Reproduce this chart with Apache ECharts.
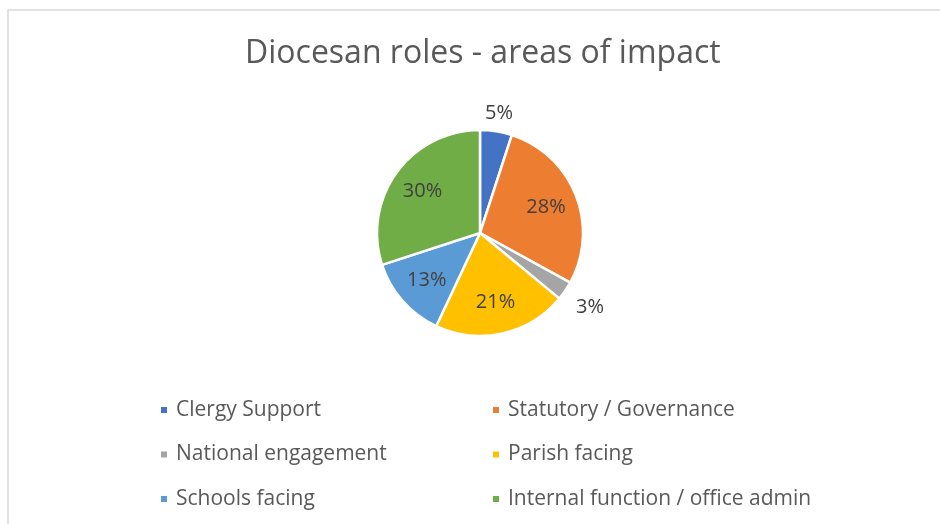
<!DOCTYPE html>
<html>
<head>
<meta charset="utf-8">
<script src="https://cdn.jsdelivr.net/npm/echarts@6/dist/echarts.min.js"></script>
<style>
  html, body { margin: 0; padding: 0; background: #fff; }
  #chart { width: 940px; height: 524px; }
</style>
</head>
<body>
<div id="chart"></div>
<script>
// Diocesan roles pie

var categories = ['Clergy Support', 'Statutory / Governance', 'National engagement',
                  'Parish facing', 'Schools facing', 'Internal function / office admin'];
var values = [5, 28, 3, 21, 13, 30];
var colors = ['#4472C4', '#ED7D31', '#A5A5A5', '#FFC000', '#5B9BD5', '#70AD47'];

var leftColumn = [categories[0], categories[2], categories[4]];
var rightColumn = [categories[1], categories[3], categories[5]];

var font = '"Open Sans", sans-serif';
var textColor = '#404040';

var pieData = categories.map(function (name, i) {
    return { name: name, value: values[i], itemStyle: { color: colors[i] } };
});

// transparent copy of the pie, only used to place the percent labels
function labelSeries(radius, show) {
    return {
        type: 'pie',
        center: [480, 233],
        radius: [0, radius],
        silent: true,
        animation: false,
        z: 3,
        itemStyle: { color: 'rgba(0,0,0,0)', borderWidth: 0 },
        label: {
            show: true,
            position: 'inside',
            color: textColor,
            fontFamily: font,
            fontSize: 20,
            formatter: function (p) {
                return show.indexOf(p.dataIndex) >= 0 ? p.value + '%' : '';
            }
        },
        labelLine: { show: false },
        data: categories.map(function (name, i) {
            return { name: name, value: values[i] };
        })
    };
}

var legendText = { color: '#595959', fontFamily: font, fontSize: 21, lineHeight: 22, padding: [0, 0, 0, 3] };

var myChart = echarts.init(document.getElementById('chart'));

var option = {
    backgroundColor: '#fff',
    color: colors,
    title: {
        text: 'Diocesan roles - areas of impact',
        left: 240,
        top: 33,
        textStyle: {
            color: '#595959',
            fontFamily: font,
            fontWeight: 'normal',
            fontSize: 32
        }
    },
    graphic: [{
        type: 'rect',
        shape: { x: 8, y: 10, width: 1000, height: 1000 },
        style: { fill: 'none', stroke: '#d9d9d9', lineWidth: 1.5 },
        silent: true
    }],
    legend: [{
        orient: 'vertical',
        left: 154,
        top: 394,
        itemWidth: 8,
        itemHeight: 8,
        itemGap: 22.5,
        icon: 'rect',
        data: leftColumn,
        textStyle: legendText
    }, {
        orient: 'vertical',
        left: 486,
        top: 394,
        itemWidth: 8,
        itemHeight: 8,
        itemGap: 22.5,
        icon: 'rect',
        data: rightColumn,
        textStyle: legendText
    }],
    series: [{
        name: 'Areas of impact',
        type: 'pie',
        center: [480, 233],
        radius: [0, 103],
        startAngle: 90,
        clockwise: true,
        animation: false,
        itemStyle: { borderColor: '#fff', borderWidth: 2.5 },
        label: { show: false },
        labelLine: { show: false },
        data: pieData
    },
    labelSeries(136, [1, 3, 4, 5]),
    labelSeries(237, [0]),
    labelSeries(260, [2])
    ]
};

myChart.setOption(option);
</script>
</body>
</html>
